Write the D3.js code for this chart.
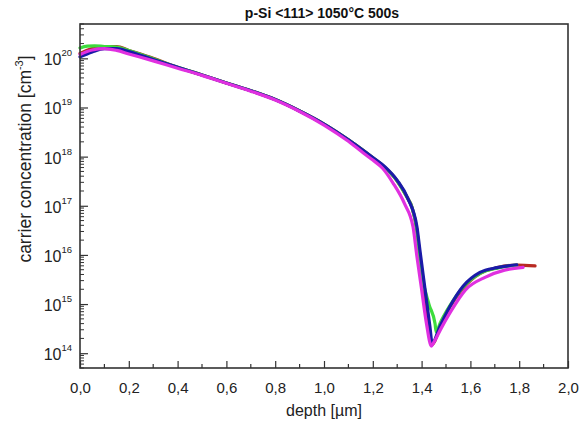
<!DOCTYPE html>
<html><head><meta charset="utf-8">
<script src="https://cdn.jsdelivr.net/npm/d3@7"></script>
<style>body{margin:0;background:#fff;}svg{display:block;font-family:"Liberation Sans",Arial,sans-serif;}</style>
</head><body><svg id="c" width="582" height="425"></svg>
<script>
const chartTitle = "p-Si <111> 1050°C 500s";
const xTicks = [0,0.2,0.4,0.6,0.8,1.0,1.2,1.4,1.6,1.8,2.0];
const yExponents = [14,15,16,17,18,19,20];
const seriesNames = ["red","green","blue","magenta"];
const seriesColors = ["#b82a22","#3ddc3d","#1a1aa8","#e030e0"];

const redDepth = [0,0.05,0.10,0.15,0.20,0.30,0.40,0.50,0.60,0.70,0.80,0.90,1.00,1.10,1.16,1.20,1.25,1.30,1.34,1.36,1.38,1.39,1.41,1.43,1.443,1.455,1.475,1.516,1.57,1.64,1.71,1.79,1.865];
const redConc  = [1.26e20,1.58e20,1.74e20,1.74e20,1.45e20,1.0e20,6.6e19,4.6e19,3.16e19,2.2e19,1.45e19,8.5e18,4.6e18,2.2e18,1.35e18,9.5e17,6.0e17,3.2e17,1.5e17,9.5e16,3.3e16,1.26e16,2.0e15,3.2e14,1.5e14,1.8e14,3.4e14,8.7e14,2.1e15,4.2e15,5.5e15,6.2e15,6.0e15];

const greenDepth = [0,0.03,0.06,0.10,0.15,0.20,0.30,0.40,0.50,0.60,0.70,0.80,0.90,1.00,1.10,1.16,1.20,1.25,1.30,1.34,1.36,1.38,1.39,1.40,1.43,1.455,1.46,1.475,1.516,1.57,1.64,1.71,1.79];
const greenConc  = [1.62e20,1.78e20,1.8e20,1.74e20,1.7e20,1.45e20,9.8e19,6.6e19,4.6e19,3.16e19,2.2e19,1.45e19,8.5e18,4.6e18,2.2e18,1.35e18,9.5e17,6.0e17,3.2e17,1.5e17,9.5e16,3.3e16,1.1e16,4.3e15,1.0e15,4.0e14,2.7e14,4.0e14,9.3e14,2.2e15,4.2e15,5.4e15,6.2e15];

const blueDepth = [0,0.05,0.10,0.15,0.20,0.30,0.40,0.50,0.60,0.70,0.80,0.90,1.00,1.10,1.16,1.20,1.25,1.30,1.344,1.381,1.393,1.414,1.434,1.443,1.475,1.516,1.57,1.639,1.709,1.79];
const blueConc  = [1.07e20,1.35e20,1.58e20,1.58e20,1.38e20,9.5e19,6.6e19,4.6e19,3.16e19,2.2e19,1.45e19,8.5e18,4.6e18,2.2e18,1.35e18,9.6e17,6.2e17,3.3e17,1.4e17,3.7e16,1.26e16,2.0e15,3.5e14,1.6e14,3.5e14,8.9e14,2.3e15,4.4e15,5.5e15,6.3e15];

const magentaDepth = [0,0.05,0.10,0.15,0.20,0.30,0.40,0.50,0.60,0.70,0.80,0.90,1.00,1.10,1.16,1.20,1.24,1.283,1.33,1.365,1.38,1.40,1.42,1.44,1.45,1.48,1.516,1.58,1.66,1.74,1.816];
const magentaConc  = [1.2e20,1.48e20,1.58e20,1.45e20,1.23e20,8.9e19,6.3e19,4.5e19,3.1e19,2.15e19,1.42e19,8.3e18,4.4e18,2.05e18,1.2e18,8.5e17,5.8e17,2.9e17,1.1e17,3.7e16,1.0e16,2.0e15,4.0e14,1.4e14,1.66e14,3.2e14,6.6e14,1.95e15,3.5e15,4.9e15,5.6e15];

const seriesDepth = [redDepth, greenDepth, blueDepth, magentaDepth];
const seriesConc = [redConc, greenConc, blueConc, magentaConc];

const svg = d3.select("#c");
const m = {l:80, r:568, t:24, b:368};
const x = d3.scaleLinear().domain([0,2]).range([m.l, m.r]);
const y = d3.scaleLog().domain([5e13,5e20]).range([m.b, m.t]);

// curves
const line = d3.line().x(d=>x(d[0])).y(d=>y(d[1])).curve(d3.curveMonotoneX);
seriesNames.forEach((n,i)=>{
  const pts = seriesDepth[i].map((d,j)=>[d, seriesConc[i][j]]);
  svg.append("path").datum(pts).attr("d", line)
    .attr("fill","none").attr("stroke", seriesColors[i]).attr("stroke-width",3.2)
    .attr("stroke-linejoin","round").attr("stroke-linecap","round");
});

// frame
svg.append("rect").attr("x",m.l).attr("y",m.t).attr("width",m.r-m.l).attr("height",m.b-m.t)
  .attr("fill","none").attr("stroke","#333").attr("stroke-width",1.6);

// x axis ticks (inside)
const xAxis = d3.axisBottom(x).tickValues(xTicks).tickSizeInner(-7).tickSizeOuter(0)
  .tickFormat(d=>d3.format(".1f")(d).replace(".",","));
const gx = svg.append("g").attr("transform",`translate(0,${m.b})`).call(xAxis);
gx.select(".domain").remove();
gx.selectAll(".tick line").attr("stroke","#333").attr("stroke-width",1.2);
gx.selectAll(".tick text").attr("y",14).attr("font-size",15).attr("fill","#222")
  .attr("font-family","'Liberation Sans',Arial,sans-serif");
const xMinor = d3.range(0.1,2,0.2);
svg.append("g").selectAll("line").data(xMinor).join("line")
  .attr("x1",d=>x(d)).attr("x2",d=>x(d)).attr("y1",m.b).attr("y2",m.b-4)
  .attr("stroke","#333").attr("stroke-width",1.2);

// y axis ticks
const yMajor = yExponents.map(e=>Math.pow(10,e));
const yMinorVals = [];
for (let e=13;e<=20;e++) for (let k=2;k<=9;k++){const v=k*Math.pow(10,e); if(v>=5e13 && v<=5e20) yMinorVals.push(v);}
const yAxis = d3.axisLeft(y).tickValues(yMajor).tickSizeInner(-8).tickSizeOuter(0).tickFormat("");
const gy = svg.append("g").attr("transform",`translate(${m.l},0)`).call(yAxis);
gy.select(".domain").remove();
gy.selectAll(".tick line").attr("stroke","#333").attr("stroke-width",1.2);
svg.append("g").selectAll("line").data(yMinorVals).join("line")
  .attr("x1",m.l).attr("x2",m.l+4).attr("y1",d=>y(d)).attr("y2",d=>y(d))
  .attr("stroke","#333").attr("stroke-width",1);
const yl = svg.append("g").selectAll("text").data(yExponents).join("text")
  .attr("x",m.l-8).attr("y",d=>y(Math.pow(10,d))+7).attr("text-anchor","end")
  .attr("font-size",16).attr("fill","#222");
yl.append("tspan").text("10");
yl.append("tspan").attr("font-size",9.5).attr("dy",-9).text(d=>d);

// titles
svg.append("text").attr("x",322).attr("y",18).attr("text-anchor","middle")
  .attr("font-size",14).attr("font-weight","bold").attr("fill","#111").text(chartTitle);
svg.append("text").attr("x",324).attr("y",416).attr("text-anchor","middle")
  .attr("font-size",16).attr("fill","#222").text("depth [µm]");
const yt = svg.append("text").attr("transform","translate(31,159) rotate(-90)")
  .attr("text-anchor","middle").attr("font-size",17.5).attr("fill","#222");
yt.append("tspan").text("carrier concentration [cm");
yt.append("tspan").attr("font-size",11).attr("dy",-8).text("-3");
yt.append("tspan").attr("dy",8).text("]");
</script></body></html>
